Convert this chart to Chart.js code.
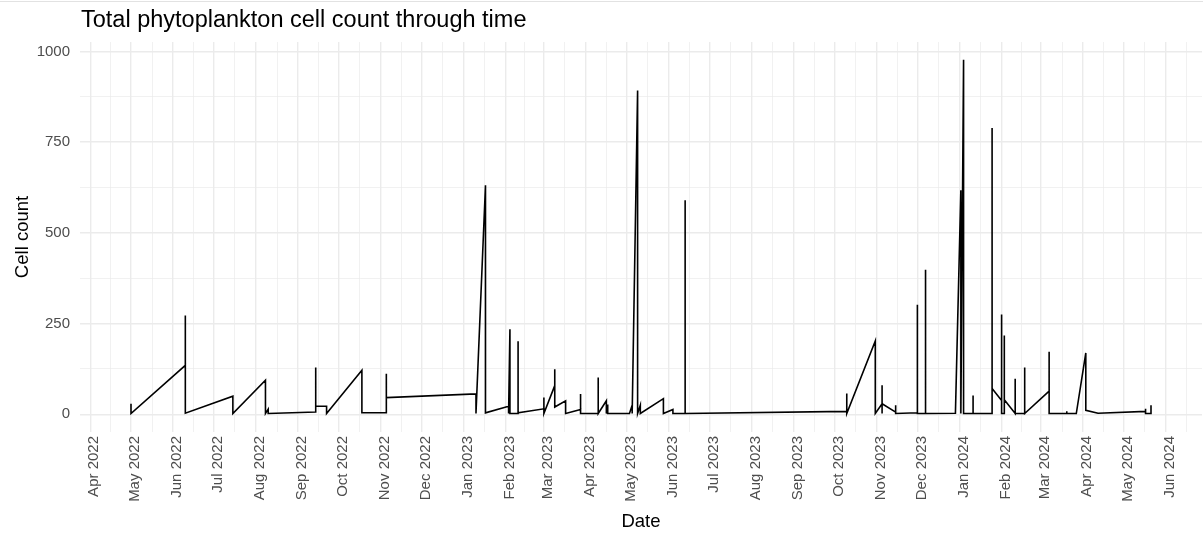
<!DOCTYPE html>
<html>
<head>
<meta charset="utf-8">
<title>Total phytoplankton cell count through time</title>
<script src="https://cdn.jsdelivr.net/npm/chart.js@4.4.1/dist/chart.umd.min.js"></script>
<style>
  html, body { margin: 0; padding: 0; background: #fff; }
  #wrap { width: 1203px; height: 536px; }
</style>
</head>
<body>
<div id="wrap"><canvas id="phytoChart" width="1203" height="536"></canvas></div>
<script>
// one entry per sample; several samples can share a date
const sampleDates = [
  '2022-05-01', '2022-05-01',
  '2022-06-10', '2022-06-10', '2022-06-10',
  '2022-07-15', '2022-07-15',
  '2022-08-08', '2022-08-08',
  '2022-08-10', '2022-08-10',
  '2022-09-14', '2022-09-14', '2022-09-14',
  '2022-09-22', '2022-09-22',
  '2022-10-18', '2022-10-18',
  '2022-11-05', '2022-11-05', '2022-11-05',
  '2023-01-10', '2023-01-10',
  '2023-01-17', '2023-01-17',
  '2023-02-03', '2023-02-03',
  '2023-02-04', '2023-02-04',
  '2023-02-10', '2023-02-10', '2023-02-10',
  '2023-03-01', '2023-03-01', '2023-03-01',
  '2023-03-09', '2023-03-09', '2023-03-09',
  '2023-03-17', '2023-03-17',
  '2023-03-28', '2023-03-28', '2023-03-28',
  '2023-04-10', '2023-04-10', '2023-04-10',
  '2023-04-16', '2023-04-16',
  '2023-04-17', '2023-04-17',
  '2023-05-03',
  '2023-05-05', '2023-05-05',
  '2023-05-09', '2023-05-09',
  '2023-05-11', '2023-05-11',
  '2023-05-28', '2023-05-28',
  '2023-06-04', '2023-06-04',
  '2023-06-13', '2023-06-13', '2023-06-13', '2023-06-13',
  '2023-10-10', '2023-10-10', '2023-10-10',
  '2023-10-31', '2023-10-31',
  '2023-11-05', '2023-11-05', '2023-11-05', '2023-11-05',
  '2023-11-15', '2023-11-15', '2023-11-15',
  '2023-12-01', '2023-12-01', '2023-12-01',
  '2023-12-07', '2023-12-07', '2023-12-07',
  '2023-12-29',
  '2024-01-02', '2024-01-02',
  '2024-01-04', '2024-01-04',
  '2024-01-11', '2024-01-11', '2024-01-11',
  '2024-01-25', '2024-01-25', '2024-01-25', '2024-01-25',
  '2024-02-01', '2024-02-01', '2024-02-01',
  '2024-02-03', '2024-02-03', '2024-02-03',
  '2024-02-11', '2024-02-11', '2024-02-11',
  '2024-02-18', '2024-02-18', '2024-02-18',
  '2024-03-07', '2024-03-07', '2024-03-07',
  '2024-03-20', '2024-03-20', '2024-03-20',
  '2024-03-27',
  '2024-04-03', '2024-04-03',
  '2024-04-12',
  '2024-05-17', '2024-05-17', '2024-05-17',
  '2024-05-21', '2024-05-21'
];

const cellCounts = [
  29, 2,
  135, 272, 3,
  50, 2,
  94, 2,
  14, 2,
  6, 129, 23,
  22, 2,
  121, 4,
  4, 112, 46,
  56, 2,
  631, 4,
  22, 2,
  234, 2,
  2, 201, 4,
  15, 46, 2,
  79, 124, 20,
  37, 2,
  13, 56, 2,
  2, 101, 2,
  37, 2,
  27, 2,
  2,
  25, 2,
  892, 2,
  25, 2,
  43, 2,
  13, 2,
  2, 350, 590, 2,
  8, 57, 2,
  202, 2,
  29, 2, 80, 29,
  6, 25, 2,
  4, 302, 2,
  2, 398, 2,
  3,
  617, 2,
  977, 2,
  2, 52, 2,
  2, 35, 789, 71,
  38, 275, 2,
  2, 217, 40,
  2, 98, 2,
  2, 129, 2,
  64, 172, 2,
  2, 8, 2,
  2,
  169, 11,
  3,
  8, 15, 2,
  2, 25
];

// major x breaks (month starts) and y breaks
const monthTicks = [
  '2022-04-01', '2022-05-01', '2022-06-01', '2022-07-01', '2022-08-01', '2022-09-01',
  '2022-10-01', '2022-11-01', '2022-12-01', '2023-01-01', '2023-02-01', '2023-03-01',
  '2023-04-01', '2023-05-01', '2023-06-01', '2023-07-01', '2023-08-01', '2023-09-01',
  '2023-10-01', '2023-11-01', '2023-12-01', '2024-01-01', '2024-02-01', '2024-03-01',
  '2024-04-01', '2024-05-01', '2024-06-01'
];
const countTicks = [0, 250, 500, 750, 1000];
const monthNames = ['Jan', 'Feb', 'Mar', 'Apr', 'May', 'Jun', 'Jul', 'Aug', 'Sep', 'Oct', 'Nov', 'Dec'];

const FONT = '"Liberation Sans", Arial, Helvetica, sans-serif';
const DAY = 86400000;
const toDay = s => Date.parse(s + 'T00:00:00Z') / DAY;

function dayLabel(v) {
  const d = new Date(Math.round(v) * DAY);
  return monthNames[d.getUTCMonth()] + ' ' + d.getUTCFullYear();
}

// majors plus a minor break half way between each pair (like ggplot)
function withMinor(major) {
  const out = [];
  const first = major[1] - major[0];
  const last = major[major.length - 1] - major[major.length - 2];
  out.push({ value: major[0] - first / 2, major: false });
  major.forEach((v, i) => {
    out.push({ value: v, major: true });
    const next = i < major.length - 1 ? major[i + 1] : v + last;
    out.push({ value: (v + next) / 2, major: false });
  });
  return out;
}

const points = sampleDates.map((d, i) => ({ x: toDay(d), y: cellCounts[i] }));

const xs = points.map(p => p.x);
const xLo = Math.min(...xs), xHi = Math.max(...xs);
const xPad = (xHi - xLo) * 0.05;
const yLo = Math.min(0, ...cellCounts), yHi = Math.max(...cellCounts);
const yPad = (yHi - yLo) * 0.05;

const gridWidth = ctx => (ctx.tick && ctx.tick.major ? 1.4 : 0.7);

const titlePlugin = {
  id: 'ggTitle',
  beforeDraw(chart) {
    const c = chart.ctx;
    c.save();
    c.fillStyle = '#e2e2e2';
    c.fillRect(0, 1, chart.width, 1);
    c.restore();
  },
  afterDraw(chart) {
    const c = chart.ctx;
    c.save();
    c.font = '23.5px ' + FONT;
    c.fillStyle = '#000';
    c.textAlign = 'left';
    c.textBaseline = 'alphabetic';
    c.fillText('Total phytoplankton cell count through time', chart.chartArea.left + 1, 27);
    c.restore();
  }
};

new Chart(document.getElementById('phytoChart'), {
  type: 'line',
  data: {
    datasets: [{
      label: 'Cell count',
      data: points,
      borderColor: '#000',
      borderWidth: 1.6,
      pointRadius: 0,
      fill: false,
      tension: 0
    }]
  },
  options: {
    responsive: false,
    animation: false,
    devicePixelRatio: 1,
    layout: { padding: { top: 42, right: 1, bottom: 0, left: 0 } },
    plugins: {
      legend: { display: false },
      tooltip: { enabled: false }
    },
    scales: {
      x: {
        type: 'linear',
        min: xLo - xPad,
        max: xHi + xPad,
        afterBuildTicks: scale => {
          scale.ticks = withMinor(monthTicks.map(toDay))
            .filter(t => t.value >= scale.min && t.value <= scale.max);
        },
        afterFit: scale => {
          scale.height = 104;
          scale.paddingLeft = 0;
          scale.paddingRight = 0;
        },
        grid: { color: '#ebebeb', lineWidth: gridWidth, drawTicks: false },
        border: { display: false },
        ticks: {
          autoSkip: false,
          minRotation: 90,
          maxRotation: 90,
          labelOffset: 4,
          padding: 4,
          color: '#4d4d4d',
          font: { family: FONT, size: 15 },
          callback: (value, index, ticks) => (ticks[index].major ? dayLabel(value) : '')
        },
        title: {
          display: true,
          text: 'Date',
          color: '#000',
          font: { family: FONT, size: 18.5 },
          padding: { top: 0, bottom: 3 }
        }
      },
      y: {
        type: 'linear',
        min: yLo - yPad,
        max: yHi + yPad,
        afterBuildTicks: scale => {
          scale.ticks = withMinor(countTicks)
            .filter(t => t.value >= scale.min && t.value <= scale.max);
        },
        afterFit: scale => { scale.width = 80; },
        grid: { color: '#ebebeb', lineWidth: gridWidth, drawTicks: false },
        border: { display: false },
        ticks: {
          padding: 10,
          color: '#4d4d4d',
          font: { family: FONT, size: 15 },
          callback: (value, index, ticks) => (ticks[index].major ? String(value) : '')
        },
        title: {
          display: true,
          text: 'Cell count',
          color: '#000',
          font: { family: FONT, size: 18.5 },
          padding: { top: 12, bottom: 0 }
        }
      }
    }
  },
  plugins: [titlePlugin]
});
</script>
</body>
</html>
